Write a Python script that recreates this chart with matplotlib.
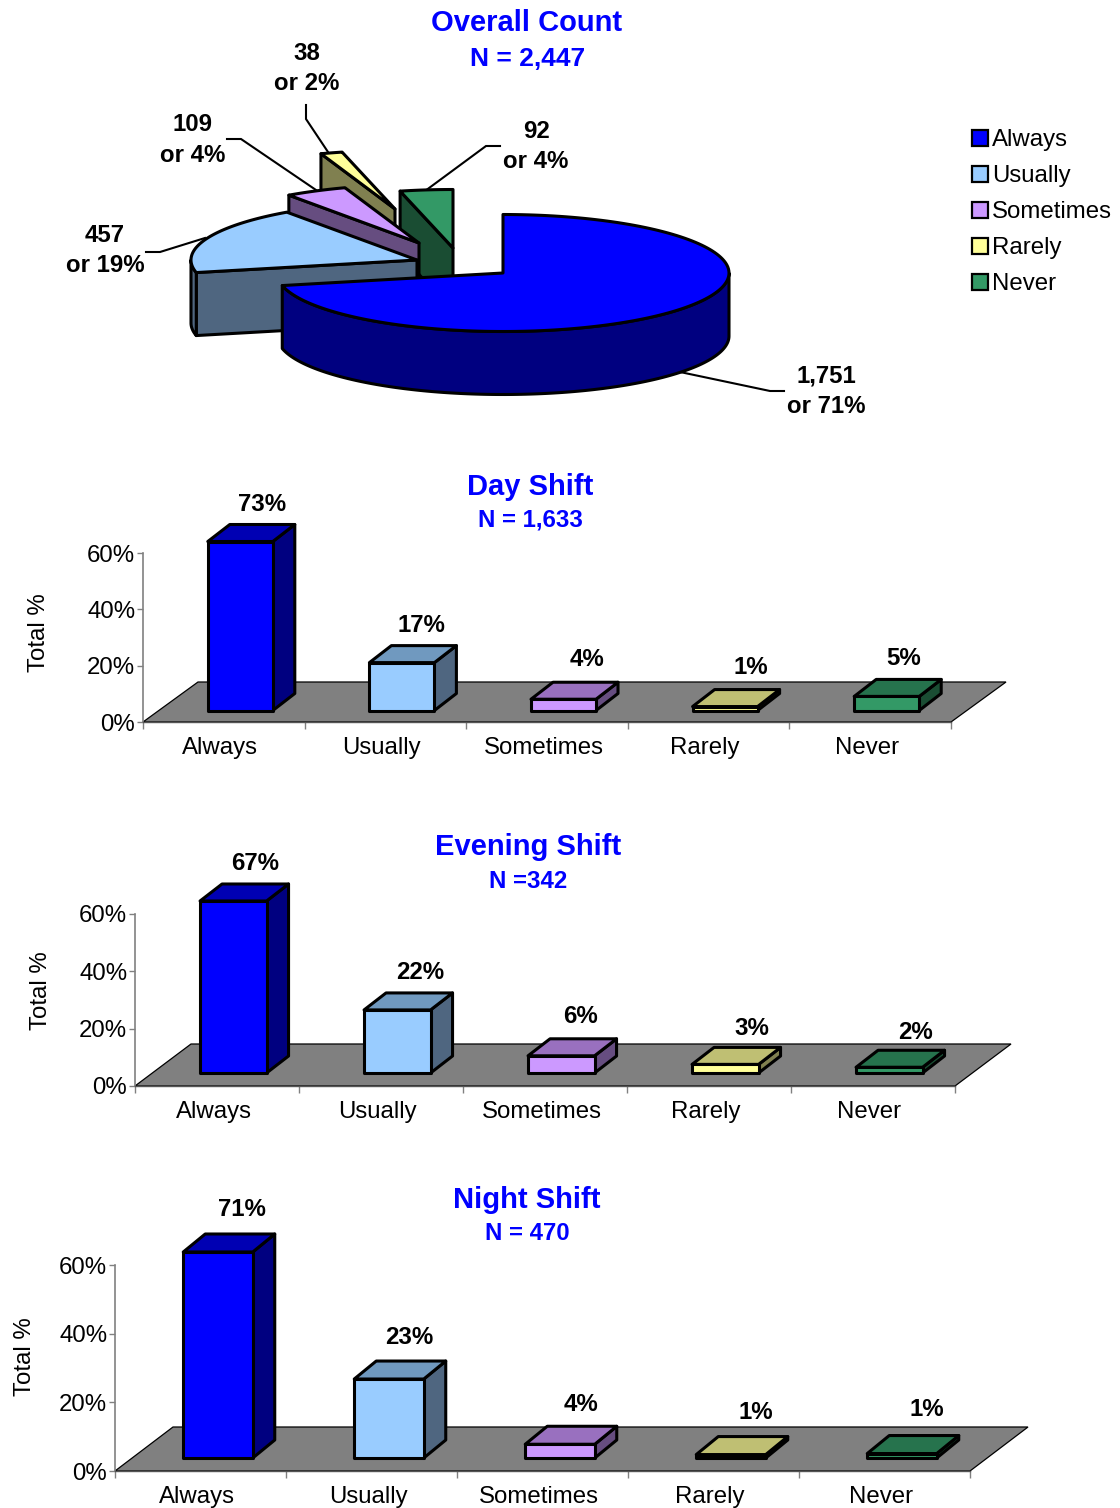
import numpy as np
import matplotlib
matplotlib.use("Agg")
import matplotlib.pyplot as plt
from matplotlib.patches import Polygon, Patch

# ---------- data ----------
categories = ["Always", "Usually", "Sometimes", "Rarely", "Never"]
overall_counts = [1751, 457, 109, 38, 92]
day_pct = [73, 17, 4, 1.4, 5]
evening_pct = [67, 22, 6, 3, 2]
night_pct = [71, 23, 4, 1, 1.3]
y_ticks = [0, 20, 40, 60]
y_max = 60

# ---------- style ----------
front = ["#0000FF", "#99CCFF", "#CC99FF", "#FFFF99", "#339966"]
top_c = ["#0000B3", "#7099BF", "#9970BF", "#BFBF73", "#26734D"]
side = ["#000080", "#4F6680", "#664D80", "#808050", "#1A4D33"]
BLUE = "#0000FF"
W, H = 1120, 1508
FS = 17.25
plt.rcParams["font.family"] = ["Liberation Sans", "DejaVu Sans"]

fig = plt.figure(figsize=(W / 100, H / 100), dpi=100, facecolor="white")
ov = fig.add_axes([0, 0, 1, 1], zorder=5)
ov.set_xlim(0, W)
ov.set_ylim(H, 0)
ov.axis("off")
ov.patch.set_alpha(0)


def label(x, y, s, size=FS, color="black", weight="normal", **kw):
    ov.text(x, y, s, fontsize=size, color=color, fontweight=weight,
            ha="center", va="center", **kw)


# ---------- pie ----------
RX, RY, DEPTH = 226, 58.5, 63
apex = [(503, 273), (417, 260), (419, 243), (395, 209), (453, 248)]
edges = np.cumsum([0] + overall_counts) / sum(overall_counts) * 360.0


def rim(c, a, b, n=160):
    t = np.radians(np.linspace(a, b, n))
    return np.column_stack([c[0] + RX * np.sin(t), c[1] - RY * np.cos(t)])


def poly(pts, fc, lw=2.2, z=2):
    ov.add_patch(Polygon(pts, closed=True, fc=fc, ec="black", lw=lw,
                         joinstyle="round", zorder=z))


for i in [4, 3, 2, 1, 0]:
    a, b, c = edges[i], edges[i + 1], apex[i]
    z = 2 + (4 - i)
    # cut face at the starting angle
    if i > 0:
        p = rim(c, a, a, 1)[0]
        poly([c, p, (p[0], p[1] + DEPTH), (c[0], c[1] + DEPTH)], side[i], z=z)
    # outer wall, only the part facing the viewer
    lo, hi = max(a, 90), min(b, 270)
    if lo < hi:
        arc = rim(c, lo, hi)
        wall = np.vstack([arc, (arc + [0, DEPTH])[::-1]])
        poly(wall, side[i], z=z)
    # top face
    poly(np.vstack([[c], rim(c, a, b)]), front[i], z=z)

pie_text = [
    ("1,751\nor 71%", 826, 391.5, [(680, 372), (770, 391), (784, 391)]),
    ("457\nor 19%", 105, 250.5, [(205, 238), (160, 252), (146, 252)]),
    ("109\nor 4%", 192.5, 140, [(316, 190), (241, 139), (227, 139)]),
    ("38\nor 2%", 306.5, 68.5, [(328, 152), (306, 119), (306, 105)]),
    ("92\nor 4%", 536, 146.5, [(425, 191), (486, 146), (500, 146)]),
]
for s, x, y, leader in pie_text:
    label(x, y, s, weight="bold", linespacing=1.41)
    ov.plot(*zip(*leader), color="black", lw=1.5, zorder=1, solid_joinstyle="miter")

handles = [Patch(fc=f, ec="black", lw=1.6) for f in front]
ov.legend(handles, categories, loc="upper left", bbox_to_anchor=(965, 122),
          bbox_transform=ov.transData, frameon=False, fontsize=FS,
          handlelength=0.66, handleheight=0.66, handletextpad=0.18,
          labelspacing=0.585, borderpad=0.3, borderaxespad=0)

label(527, 23, "Overall Count", size=21, color=BLUE, weight="bold")
label(527.5, 59, "N = 2,447", size=19, color=BLUE, weight="bold")


# ---------- shift panels ----------
def panel(values, title, n_text, title_pos, n_pos, left, right, y0, y60,
          floor_shift, bar_shift, bar_w, depth, label_off, ylab_x, ylab_y):
    ax = fig.add_axes([left / W, 1 - y0 / H, (right - left) / W, (y0 - y60) / H],
                      zorder=2)
    ax.patch.set_alpha(0)
    ax.set_xlim(0, len(categories))
    ax.set_ylim(0, y_max)
    ux = len(categories) / (right - left)
    uy = y_max / (y0 - y60)

    fx, fy = floor_shift[0] * ux, floor_shift[1] * uy
    n = len(categories)
    ax.add_patch(Polygon([(0, 0), (n, 0), (n + fx, fy), (fx, fy)], fc="#808080",
                         ec="black", lw=0.9, clip_on=False, zorder=1))

    bw = bar_w * ux
    dx, dy = depth[0] * ux, depth[1] * uy
    for i, v in enumerate(values):
        h = min(v, y_max)
        xc = i + 0.5 + bar_shift[0] * ux
        b = bar_shift[1] * uy
        x0, x1, t = xc - bw / 2, xc + bw / 2, b + h
        kw = dict(ec="black", lw=2.2, clip_on=False, zorder=3, joinstyle="round")
        ax.add_patch(Polygon([(x1, b), (x1 + dx, b + dy), (x1 + dx, t + dy), (x1, t)],
                             fc=side[i], **kw))
        ax.add_patch(Polygon([(x0, t), (x1, t), (x1 + dx, t + dy), (x0 + dx, t + dy)],
                             fc=top_c[i], **kw))
        ax.add_patch(Polygon([(x0, b), (x1, b), (x1, t), (x0, t)], fc=front[i], **kw))
        ax.annotate(f"{round(v)}%", xy=(xc, t),
                    xytext=(label_off[i][0] * .72, label_off[i][1] * .72),
                    textcoords="offset points", ha="center", va="center", fontsize=FS,
                    fontweight="bold", annotation_clip=False, zorder=6)

    for sp in ("top", "right"):
        ax.spines[sp].set_visible(False)
    ax.spines["left"].set_color("#808080")
    ax.spines["left"].set_linewidth(1.2)
    ax.spines["bottom"].set_color("#555555")
    ax.spines["bottom"].set_linewidth(1.0)
    ax.set_yticks(y_ticks, [f"{t}%" for t in y_ticks], fontsize=FS)
    ax.tick_params(axis="y", length=4, width=1, color="#808080", pad=1.5)
    ax.set_xticks(np.arange(n + 1), [""] * (n + 1))
    ax.tick_params(axis="x", which="major", length=5, width=1, color="#808080")
    ax.set_xticks(np.arange(n) + 0.5 - 3.5 * ux, categories, minor=True, fontsize=FS)
    ax.tick_params(axis="x", which="minor", length=0, pad=10.5)
    ax.set_ylabel("Total %", fontsize=FS)
    ax.yaxis.set_label_coords((ylab_x + 14 - left) / (right - left), (y0 - ylab_y) / (y0 - y60))

    label(*title_pos, title, size=21, color=BLUE, weight="bold")
    label(*n_pos, n_text, color=BLUE, weight="bold")


panel(day_pct, "Day Shift", "N = 1,633", (530.5, 487), (530, 520.5),
      143, 951, 722, 553, (55, 40), (16.5, 11.5), 65, (22, 17),
      [(22, 37), (20, 37), (23, 40), (26, 39), (17, 38)], 36, 633)
panel(evening_pct, "Evening Shift", "N =342", (528, 847), (528, 881.5),
      135, 955, 1086, 914, (56, 42), (16.3, 13), 66.5, (22, 17),
      [(22, 37), (23, 37), (19, 39), (27, 36), (26, 35)], 38, 991)
panel(night_pct, "Night Shift", "N = 470", (527, 1200), (527, 1233.5),
      115, 970, 1471, 1265, (58, 44), (17.5, 13), 69.5, (22, 18),
      [(24, 43), (20, 42), (21, 40), (25, 42), (25, 44)], 22, 1357)

fig.savefig("out.png", dpi=100, facecolor="white")
